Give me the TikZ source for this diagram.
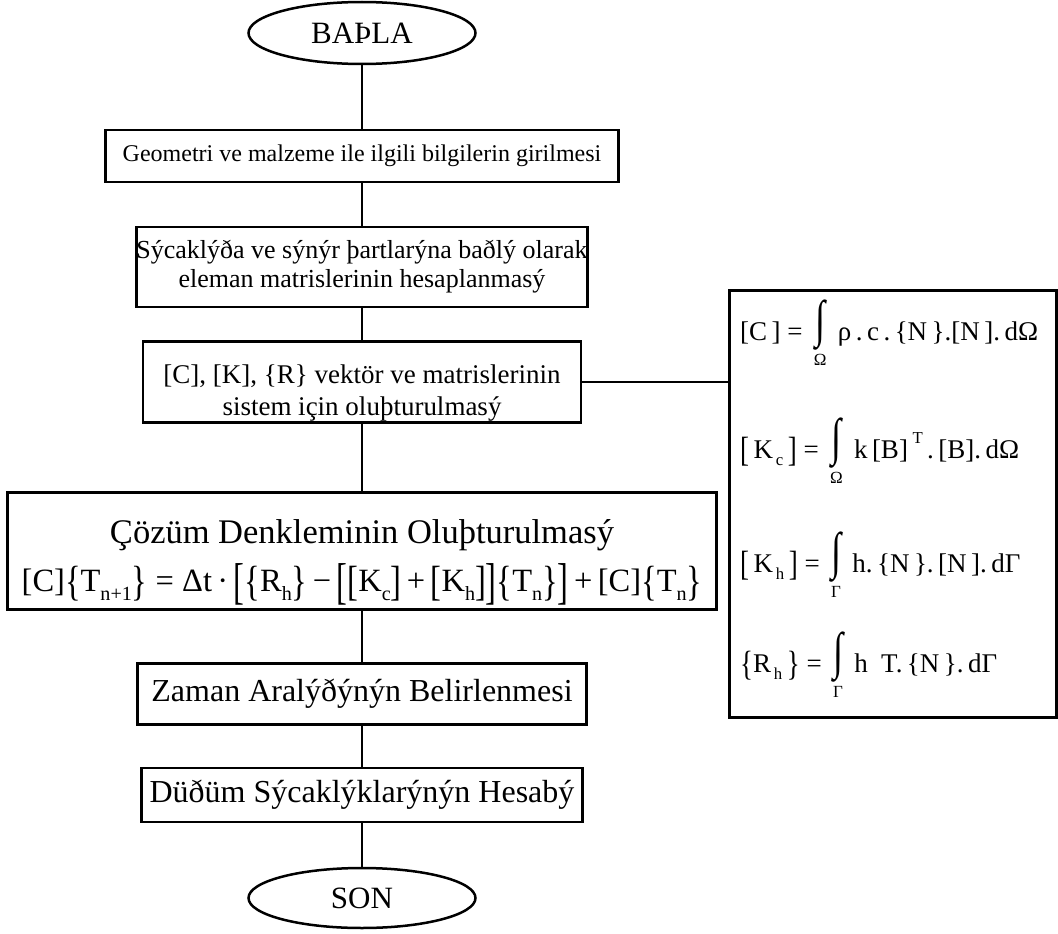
\documentclass[tikz,border=0pt]{standalone}
\usepackage{graphicx}
\usepackage{fontspec}
\setmainfont{Liberation Serif}
\usetikzlibrary{shapes.geometric}

\tikzset{
  kutu/.style={draw, rectangle, line width=2.5pt, inner sep=0pt, align=center},
  uc/.style={draw, ellipse, line width=2.5pt, inner sep=0pt,
    minimum width=227pt, font=\fontsize{31}{36}\selectfont},
  formul/.style={anchor=base west, inner sep=0pt, font=\fontsize{27}{30}\selectfont}
}
% alt indis, ust indis, buyuk parantez, integral
\newcommand{\altind}[1]{\raisebox{-0.28em}{\fontsize{0.62em}{0.62em}\selectfont #1}}
\newcommand{\ustind}[1]{\raisebox{0.55em}{\fontsize{0.62em}{0.62em}\selectfont #1}}
\newcommand{\buyuk}[1]{\raisebox{-0.12em}{\scalebox{1}[1.3]{#1}}}
\newcommand{\buyukk}[1]{\raisebox{-0.2em}{\scalebox{1}[1.55]{#1}}}
\newcommand{\intalt}[1]{\,\begin{tabular}[t]{@{}c@{}}\raisebox{0.12em}{\scalebox{1.35}[1.9]{∫}}\\[-6pt]{\fontsize{17}{17}\selectfont #1}\end{tabular}\,}

\begin{document}
\begin{tikzpicture}[x=1pt,y=-1pt]
  \useasboundingbox (0,0) rectangle (1058,934);

  \node[uc, minimum height=62pt] (1) at (362,33) {BAÞLA};
  \node[kutu, minimum width=513pt, minimum height=52pt, font=\fontsize{24}{28}\selectfont]
    (2) at (362,156) {Geometri ve malzeme ile ilgili bilgilerin girilmesi};
  \node[kutu, minimum width=448pt, minimum height=80pt, font=\fontsize{26}{29}\selectfont]
    (3) at (362,267) {Sýcaklýða ve sýnýr þartlarýna baðlý olarak\\eleman matrislerinin hesaplanmasý};
  \node[kutu, minimum width=438pt, minimum height=81pt, font=\fontsize{27}{32}\selectfont]
    (4) at (362,382) {\rule{0pt}{40pt}[C], [K], \{R\} vektör ve matrislerinin\\sistem için oluþturulmasý};
  \node[kutu, minimum width=709pt, minimum height=117pt, font=\fontsize{34.5}{48}\selectfont]
    (5) at (362,551) {\rule{0pt}{47pt}Çözüm Denkleminin Oluþturulmasý\\{\fontsize{32.5}{48}\selectfont
      [C]\buyuk{\{}T\altind{n+1}\buyuk{\}} = Δt\,·\,\buyukk{[}\buyuk{\{}R\altind{h}\buyuk{\}}\,−\,\buyukk{[}\buyuk{[}K\altind{c}\buyuk{]}\,+\,\buyuk{[}K\altind{h}\buyuk{]}\buyukk{]}\buyuk{\{}T\altind{n}\buyuk{\}}\buyukk{]}\,+\,[C]\buyuk{\{}T\altind{n}\buyuk{\}}}};
  \node[kutu, minimum width=449pt, minimum height=61pt, font=\fontsize{32}{36}\selectfont]
    (6) at (362,694) {Zaman Aralýðýnýn Belirlenmesi};
  \node[kutu, minimum width=441pt, minimum height=54pt, font=\fontsize{32}{36}\selectfont]
    (7) at (362,795) {Düðüm Sýcaklýklarýnýn Hesabý};
  \node[uc, minimum height=60pt] (8) at (362,898) {SON};

  % formul paneli
  \node[kutu, minimum width=327pt, minimum height=427pt] (9) at (893,504) {};
  \node[formul] (f1) at (740,340) {[C\,] = \intalt{Ω} ρ\,.\,c\,.\,\{N\,\}.[N\,].\,dΩ};
  \node[formul] (f2) at (740,458) {\buyuk{[}\,K\altind{\,c}\,\buyuk{]} = \intalt{Ω} k\,[B]\,\ustind{T}\,.\,[B].\,dΩ};
  \node[formul] (f3) at (740,572) {\buyuk{[}\,K\altind{\,h}\,\buyuk{]} = \intalt{Γ} h.\,\{N\,\}.\,[N\,].\,dΓ};
  \node[formul] (f4) at (740,672) {\buyuk{\{}R\altind{\,h}\,\buyuk{\}} = \intalt{Γ} h~~T.\,\{N\,\}.\,dΓ};

  \begin{scope}[every edge/.style={draw, line width=2.5pt}]
    \path (1) edge (2);
    \path (2) edge (3);
    \path (3) edge (4);
    \path (4) edge (5);
    \path (5) edge (6);
    \path (6) edge (7);
    \path (7) edge (8);
    \path (4.east) edge (4.east -| 9.west);
  \end{scope}

\end{tikzpicture}
\end{document}
